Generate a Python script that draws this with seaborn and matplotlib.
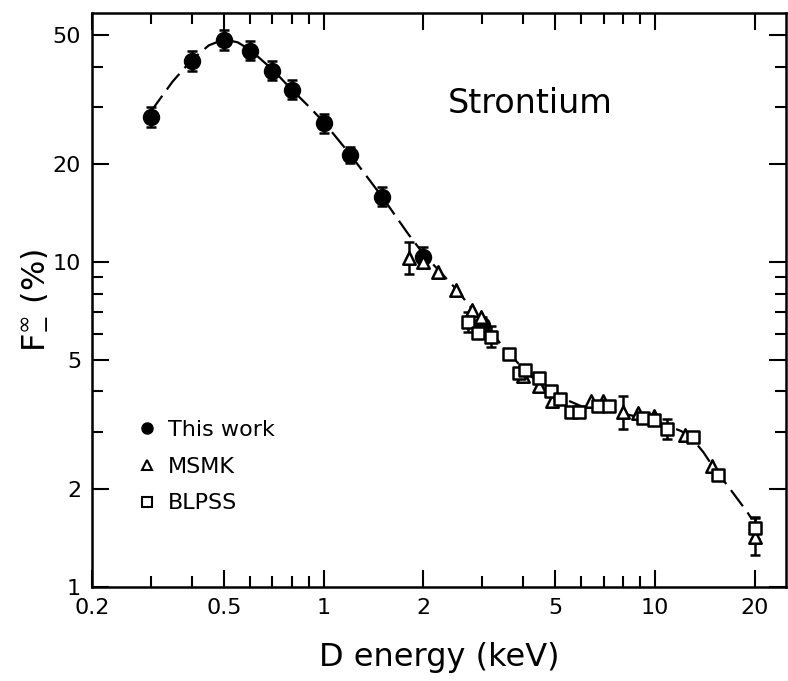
import numpy as np
import pandas as pd
import matplotlib
matplotlib.use("Agg")
import matplotlib.pyplot as plt
from matplotlib.ticker import FixedLocator, FixedFormatter, NullFormatter
from matplotlib.lines import Line2D
import seaborn as sns

# ---------------- data ----------------
this_x = [0.3, 0.4, 0.5, 0.6, 0.7, 0.8, 1.0, 1.2, 1.5, 2.0, 3.0]
this_y = [28.0, 41.5, 48.2, 44.8, 38.9, 34.0, 26.8, 21.4, 15.9, 10.4, 6.4]
this_err = [0.073, 0.073, 0.073, 0.07, 0.07, 0.07, 0.07, 0.06, 0.07, 0.07, 0.06]

msmk_x = [1.81, 2.0, 2.21, 2.51, 2.80, 2.98, 4.0, 4.48, 4.9, 6.42, 6.98, 8.0,
          8.89, 9.93, 12.3, 14.9, 20.0]
msmk_y = [10.3, 10.0, 9.3, 8.2, 7.1, 6.8, 4.45, 4.15, 3.73, 3.73, 3.75, 3.45,
          3.43, 3.37, 2.93, 2.35, 1.43]
msmk_err = [0.12, 0, 0, 0, 0, 0, 0, 0, 0, 0, 0, 0.125, 0, 0, 0, 0, 0.14]

blpss_x = [2.73, 2.92, 3.19, 3.62, 3.88, 4.05, 4.48, 4.87, 5.18, 5.56, 5.91,
           6.74, 7.27, 9.2, 9.9, 10.9, 13.0, 15.5, 20.0]
blpss_y = [6.55, 6.06, 5.9, 5.2, 4.55, 4.65, 4.4, 4.0, 3.78, 3.45, 3.45,
           3.6, 3.6, 3.31, 3.27, 3.06, 2.9, 2.22, 1.52]
blpss_err = [0.075, 0, 0.075, 0, 0, 0, 0, 0, 0, 0, 0, 0, 0, 0, 0, 0.075, 0, 0, 0.08]

curve_x = [0.3, 0.35, 0.4, 0.45, 0.5, 0.55, 0.6, 0.7, 0.8, 0.9, 1.0, 1.2, 1.5,
           1.8, 2.0, 2.5, 3.0, 3.5, 4.0, 4.5, 5.0, 6.0, 7.0, 8.0, 10.0, 12.0,
           13.0, 14.0, 15.0, 17.0, 19.0, 19.6]
curve_y = [29.0, 36.0, 42.0, 46.5, 48.5, 47.5, 45.0, 39.2, 34.0, 30.2, 27.0,
           21.5, 15.9, 12.2, 10.6, 8.3, 6.6, 5.45, 4.7, 4.2, 3.9, 3.6, 3.5,
           3.42, 3.25, 3.02, 2.85, 2.6, 2.34, 1.98, 1.7, 1.62]

series_names = ["This work", "MSMK", "BLPSS"]
x_ticks = [0.2, 0.5, 1, 2, 5, 10, 20]
x_ticklabels = ["0.2", "0.5", "1", "2", "5", "10", "20"]
y_ticks = [1, 2, 5, 10, 20, 50]
y_ticklabels = ["1", "2", "5", "10", "20", "50"]

# ---------------- build tables ----------------
pts = pd.concat([
    pd.DataFrame({"x": this_x, "y": this_y, "err": this_err, "series": series_names[0]}),
    pd.DataFrame({"x": msmk_x, "y": msmk_y, "err": msmk_err, "series": series_names[1]}),
    pd.DataFrame({"x": blpss_x, "y": blpss_y, "err": blpss_err, "series": series_names[2]}),
], ignore_index=True)
curve = pd.DataFrame({"x": curve_x, "y": curve_y})

sns.set_style("ticks")
plt.rcParams["font.family"] = ["DejaVu Sans"]
plt.rcParams["text.color"] = "black"
plt.rcParams["axes.labelcolor"] = "black"
plt.rcParams["xtick.color"] = "black"
plt.rcParams["ytick.color"] = "black"
plt.rcParams["mathtext.fontset"] = "dejavusans"

fig = plt.figure(figsize=(7.88, 6.81), dpi=100)
ax = fig.add_axes([0.117, 0.138, 0.880, 0.843])

# curve
sns.lineplot(data=curve, x="x", y="y", ax=ax, color="black", lw=1.6,
             estimator=None, sort=False, legend=False, zorder=1)
ax.lines[-1].set_dashes([9, 3.5])

# error bars
for name in series_names:
    d = pts[(pts.series == name) & (pts.err > 0)]
    if len(d):
        lo = d.y - d.y / (1 + d.err)
        hi = d.y * d.err
        ax.errorbar(d.x, d.y, yerr=[lo.values, hi.values], fmt="none",
                    ecolor="black", elinewidth=1.8, capsize=3.5, capthick=1.8,
                    zorder=2)

markers = {"This work": "o", "MSMK": "^", "BLPSS": "s"}
sizes = {"This work": 115, "MSMK": 80, "BLPSS": 80}
for name in series_names:
    d = pts[pts.series == name]
    filled = name == "This work"
    sns.scatterplot(data=d, x="x", y="y", ax=ax, marker=markers[name],
                    s=sizes[name],
                    color="black" if filled else "white",
                    edgecolor="black", linewidth=1.8, zorder=3, legend=False)

ax.set_xscale("log")
ax.set_yscale("log")
ax.set_xlim(0.2, 24.8)
ax.set_ylim(1.0, 58.5)

ax.xaxis.set_major_locator(FixedLocator(x_ticks))
ax.xaxis.set_major_formatter(FixedFormatter(x_ticklabels))
ax.xaxis.set_minor_locator(FixedLocator([0.3, 0.4, 0.6, 0.7, 0.8, 0.9, 3, 4, 6, 7, 8, 9]))
ax.xaxis.set_minor_formatter(NullFormatter())
ax.yaxis.set_major_locator(FixedLocator(y_ticks))
ax.yaxis.set_major_formatter(FixedFormatter(y_ticklabels))
ax.yaxis.set_minor_locator(FixedLocator([3, 4, 6, 7, 8, 9, 30, 40]))
ax.yaxis.set_minor_formatter(NullFormatter())

ax.tick_params(which="both", direction="in", top=True, right=True,
               width=1.5, colors="black", labelsize=16, pad=8)
ax.tick_params(which="major", length=12)
ax.tick_params(which="minor", length=8)
for s in ax.spines.values():
    s.set_linewidth(1.8)
    s.set_color("black")

ax.set_xlabel("D energy (keV)", fontsize=23, labelpad=17)
ax.set_ylabel(r"F$_{-}^{\infty}$ (%)", fontsize=23, labelpad=4)

ax.text(0.631, 0.842, "Strontium", transform=ax.transAxes, fontsize=24,
        ha="center", va="center")

handles = [
    Line2D([], [], ls="none", marker="o", color="black", markersize=8),
    Line2D([], [], ls="none", marker="^", mfc="white", mec="black", mew=1.5, markersize=7),
    Line2D([], [], ls="none", marker="s", mfc="white", mec="black", mew=1.5, markersize=7),
]
ax.legend(handles, series_names, loc="upper left", bbox_to_anchor=(0.05, 0.307),
          frameon=False, fontsize=16, handlelength=1.0, handletextpad=0.45,
          labelspacing=0.76, borderaxespad=0)

fig.savefig("out.png", dpi=100, facecolor="white")
